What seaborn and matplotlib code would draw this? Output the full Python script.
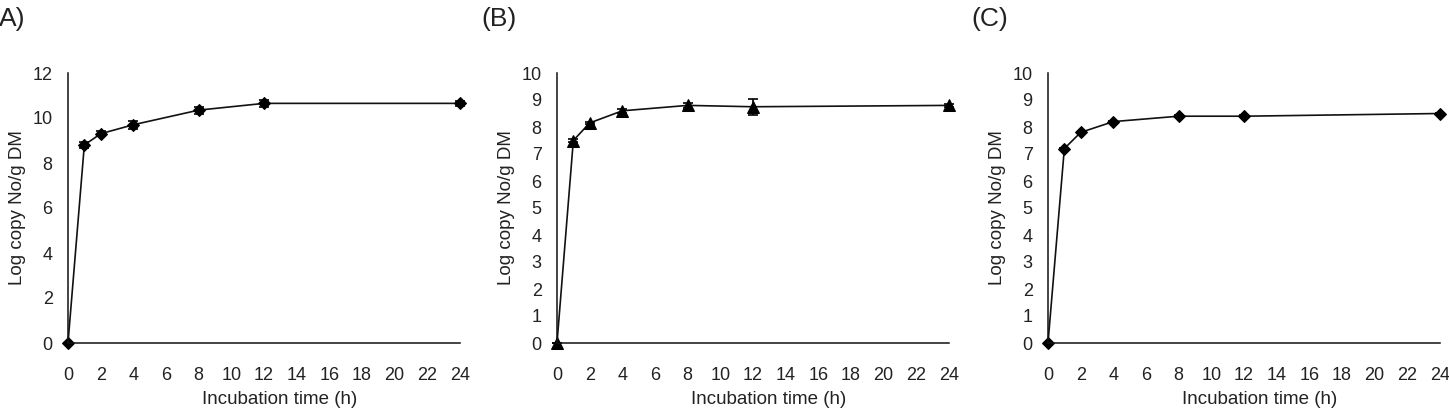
import numpy as np
import pandas as pd
import matplotlib
matplotlib.use("Agg")
import matplotlib.pyplot as plt
import seaborn as sns

# Data
hours = [0, 1, 2, 4, 8, 12, 24]
panel_a = [0, 8.8, 9.3, 9.7, 10.35, 10.65, 10.65]
panel_a_err = [0, 0.15, 0.12, 0.18, 0.15, 0.15, 0.12]
panel_b = [0, 7.5, 8.15, 8.6, 8.8, 8.75, 8.8]
panel_b_err = [0, 0.05, 0.05, 0.08, 0.1, 0.3, 0.05]
panel_c = [0, 7.2, 7.8, 8.2, 8.4, 8.4, 8.5]
panel_c_err = [0, 0.03, 0.03, 0.03, 0.03, 0.03, 0.03]
panel_labels = ["A)", "(B)", "(C)"]
xticks = list(range(0, 25, 2))
ylabel = "Log copy No/g DM"
xlabel = "Incubation time (h)"

sns.set_style("white")
plt.rcParams['font.family'] = ['Liberation Sans', 'DejaVu Sans']

fig = plt.figure(figsize=(14.49, 4.17), dpi=100)
W, H = 1449, 417
boxes = [(68, 460), (557, 949), (1048, 1440)]
top_px, bot_px = 73, 343

specs = [
    (panel_a, panel_a_err, "D", (0, 12), list(range(0, 13, 2)), 6.5),
    (panel_b, panel_b_err, "^", (0, 10), list(range(0, 11)), 8),
    (panel_c, panel_c_err, "D", (0, 10), list(range(0, 11)), 6),
]
label_x = [-1, 481, 971]
txt = "#222222"

for i, ((l, r), (vals, errs, mk, ylim, yt, ms)) in enumerate(zip(boxes, specs)):
    wpx = r - l
    hpx = bot_px - top_px
    ax = fig.add_axes([l / W, 1 - bot_px / H, wpx / W, hpx / H])
    df = pd.DataFrame({"h": hours, "v": vals})
    sns.lineplot(data=df, x="h", y="v", ax=ax, color="#111111", linewidth=1.2,
                 marker=mk, markersize=ms, markeredgecolor="black",
                 markerfacecolor="black", clip_on=False)
    ax.errorbar(hours, vals, yerr=errs, fmt="none", ecolor="black",
                elinewidth=1.2, capsize=3.5, capthick=1.2, clip_on=False)
    ax.set_xlim(0, 24)
    ax.set_ylim(*ylim)
    ax.set_xticks(xticks)
    ax.set_yticks(yt)
    ax.spines["top"].set_visible(False)
    ax.spines["right"].set_visible(False)
    for s in ["left", "bottom"]:
        ax.spines[s].set_color("#111111")
        ax.spines[s].set_linewidth(1.1)
    ax.tick_params(axis="both", direction="in", length=5, width=1.0,
                   colors="#111111", labelcolor=txt, labelsize=13)
    ax.tick_params(axis="x", pad=17)
    ax.tick_params(axis="y", pad=11)
    ax.set_xlabel(xlabel, fontsize=13.5, color=txt)
    ax.set_ylabel(ylabel, fontsize=13.5, color=txt)
    ax.xaxis.set_label_coords(0.5 + 16 / wpx, -(391 - bot_px) / hpx)
    ax.yaxis.set_label_coords(-42 / wpx, 0.5)
    fig.text(label_x[i] / W, 1 - 19 / H, panel_labels[i], fontsize=19,
             ha="left", va="center", color=txt)

fig.savefig("out.png", dpi=100, facecolor="white")
